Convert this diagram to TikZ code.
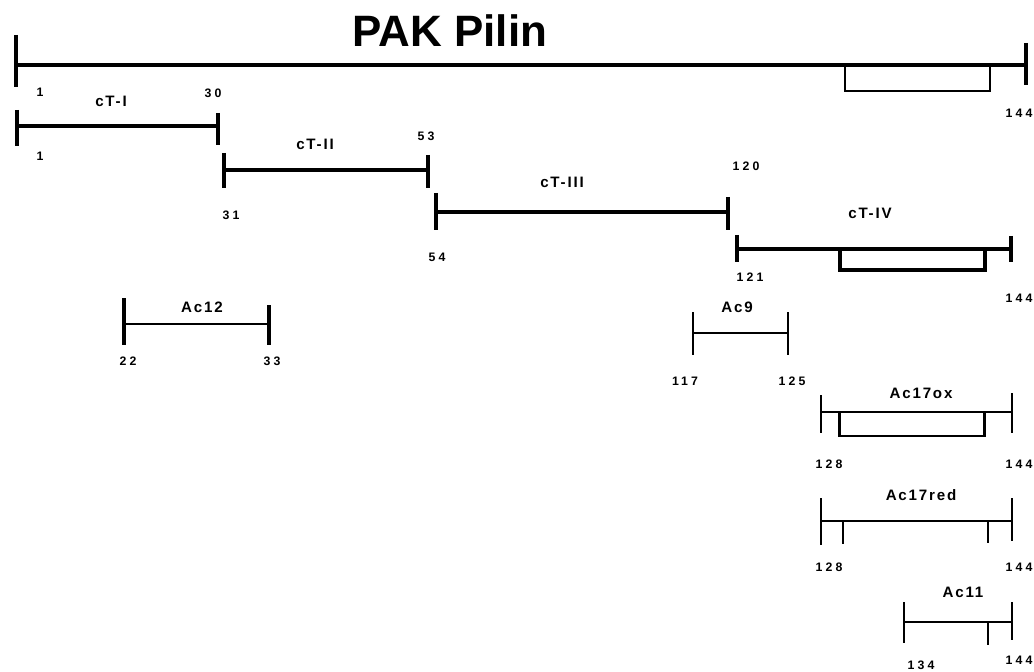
\documentclass[tikz,border=0pt]{standalone}
\usepackage{fontspec}
\setmainfont{Liberation Sans}
\newfontfamily\lblfont[LetterSpace=12]{Liberation Sans}
\newfontfamily\numfont[LetterSpace=25]{Liberation Sans}

\begin{document}
\begin{tikzpicture}[x=0.02cm,y=-0.02cm,
  heavy/.style={line width=2.3pt},
  medium/.style={line width=1.9pt},
  light/.style={line width=1.2pt},
  lbl/.style={font=\lblfont\bfseries\fontsize{8.6}{8.6}\selectfont,inner sep=0pt},
  num/.style={font=\numfont\bfseries\fontsize{7}{7}\selectfont,inner sep=0pt}]
  \useasboundingbox (0,0) rectangle (1034,672);
  % whole pilin
  \node[font=\bfseries\fontsize{25}{25}\selectfont,inner sep=0pt] (title) at (450,31) {PAK Pilin};
  \coordinate (pakA) at (16,65);
  \coordinate (pakB) at (1026,65);
  \coordinate (ssA) at (845,67);
  \coordinate (ssB) at (990,67);
  \draw[heavy] (pakA) -- (pakB);
  \draw[heavy] (pakA) ++(0,-30) -- ++(0,52);
  \draw[heavy] (pakB) ++(0,-22) -- ++(0,42);
  \draw[line width=0.8pt] (ssA) -- ++(0,24) -| (ssB);
  \node[num] (pak1) at (40,92) {1};
  \node[num] (pak30) at (213,93) {30};
  \node[num] (pak144) at (1019,113) {144};
  % cT-I
  \coordinate (tIa) at (17,126);
  \coordinate (tIb) at (218,126);
  \draw[medium] (tIa) -- (tIb);
  \draw[medium] (tIa) ++(0,-16) -- ++(0,36);
  \draw[medium] (tIb) ++(0,-13) -- ++(0,32);
  \node[lbl] (tIlbl) at (111,101) {cT-I};
  \node[num] (tI1) at (40,156) {1};
  % cT-II
  \coordinate (tIIa) at (224,170);
  \coordinate (tIIb) at (428,170);
  \draw[medium] (tIIa) -- (tIIb);
  \draw[medium] (tIIa) ++(0,-17) -- ++(0,35);
  \draw[medium] (tIIb) ++(0,-15) -- ++(0,33);
  \node[lbl] (tIIlbl) at (315,144) {cT-II};
  \node[num] (tII31) at (231,215) {31};
  \node[num] (tII53) at (426,136) {53};
  % cT-III
  \coordinate (tIIIa) at (436,212);
  \coordinate (tIIIb) at (728,212);
  \draw[medium] (tIIIa) -- (tIIIb);
  \draw[medium] (tIIIa) ++(0,-19) -- ++(0,37);
  \draw[medium] (tIIIb) ++(0,-15) -- ++(0,33);
  \node[lbl] (tIIIlbl) at (562,182) {cT-III};
  \node[num] (tIII54) at (437,257) {54};
  \node[num] (tIII120) at (746,166) {120};
  % cT-IV
  \coordinate (tIVa) at (737,249);
  \coordinate (tIVb) at (1011,249);
  \draw[medium] (tIVa) -- (tIVb);
  \draw[medium] (tIVa) ++(0,-14) -- ++(0,27);
  \draw[medium] (tIVb) ++(0,-13) -- ++(0,26);
  \draw[medium] (840,249) -- (840,270) -- (985,270) -- (985,249);
  \node[lbl] (tIVlbl) at (870,213) {cT-IV};
  \node[num] (tIV121) at (750,277) {121};
  \node[num] (tIV144) at (1019,298) {144};
  % Ac12
  \coordinate (a12a) at (124,324);
  \coordinate (a12b) at (269,324);
  \draw[light] (a12a) -- (a12b);
  \draw[medium] (a12a) ++(0,-26) -- ++(0,47);
  \draw[medium] (a12b) ++(0,-19) -- ++(0,40);
  \node[lbl] (a12lbl) at (202,307) {Ac12};
  \node[num] (a12s) at (128,361) {22};
  \node[num] (a12e) at (272,361) {33};
  % Ac9
  \coordinate (a9a) at (693,333);
  \coordinate (a9b) at (788,333);
  \draw[light] (a9a) -- (a9b);
  \draw[light] (a9a) ++(0,-21) -- ++(0,43);
  \draw[light] (a9b) ++(0,-21) -- ++(0,43);
  \node[lbl] (a9lbl) at (737,307) {Ac9};
  \node[num] (a9s) at (685,381) {117};
  \node[num] (a9e) at (792,381) {125};
  % Ac17ox
  \coordinate (oxa) at (821,412);
  \coordinate (oxb) at (1012,412);
  \draw[light] (oxa) -- (oxb);
  \draw[light] (oxa) ++(0,-17) -- ++(0,38);
  \draw[light] (oxb) ++(0,-19) -- ++(0,40);
  \draw[line width=1.7pt] (839,412) -- (839,436) -- (984,436) -- (984,412);
  \node[lbl] (oxlbl) at (921,393) {Ac17ox};
  \node[num] (oxs) at (829,464) {128};
  \node[num] (oxe) at (1019,464) {144};
  % Ac17red
  \coordinate (reda) at (821,521);
  \coordinate (redb) at (1012,521);
  \draw[light] (reda) -- (redb);
  \draw[light] (reda) ++(0,-23) -- ++(0,47);
  \draw[light] (redb) ++(0,-23) -- ++(0,43);
  \draw[light] (843,521) -- ++(0,23);
  \draw[light] (988,521) -- ++(0,22);
  \node[lbl] (redlbl) at (921,495) {Ac17red};
  \node[num] (reds) at (829,567) {128};
  \node[num] (rede) at (1019,567) {144};
  % Ac11
  \coordinate (a11a) at (904,622);
  \coordinate (a11b) at (1012,622);
  \draw[light] (a11a) -- (a11b);
  \draw[light] (a11a) ++(0,-20) -- ++(0,41);
  \draw[light] (a11b) ++(0,-20) -- ++(0,38);
  \draw[light] (988,622) -- ++(0,23);
  \node[lbl] (a11lbl) at (963,592) {Ac11};
  \node[num] (a11s) at (921,665) {134};
  \node[num] (a11e) at (1019,660) {144};
\end{tikzpicture}
\end{document}
